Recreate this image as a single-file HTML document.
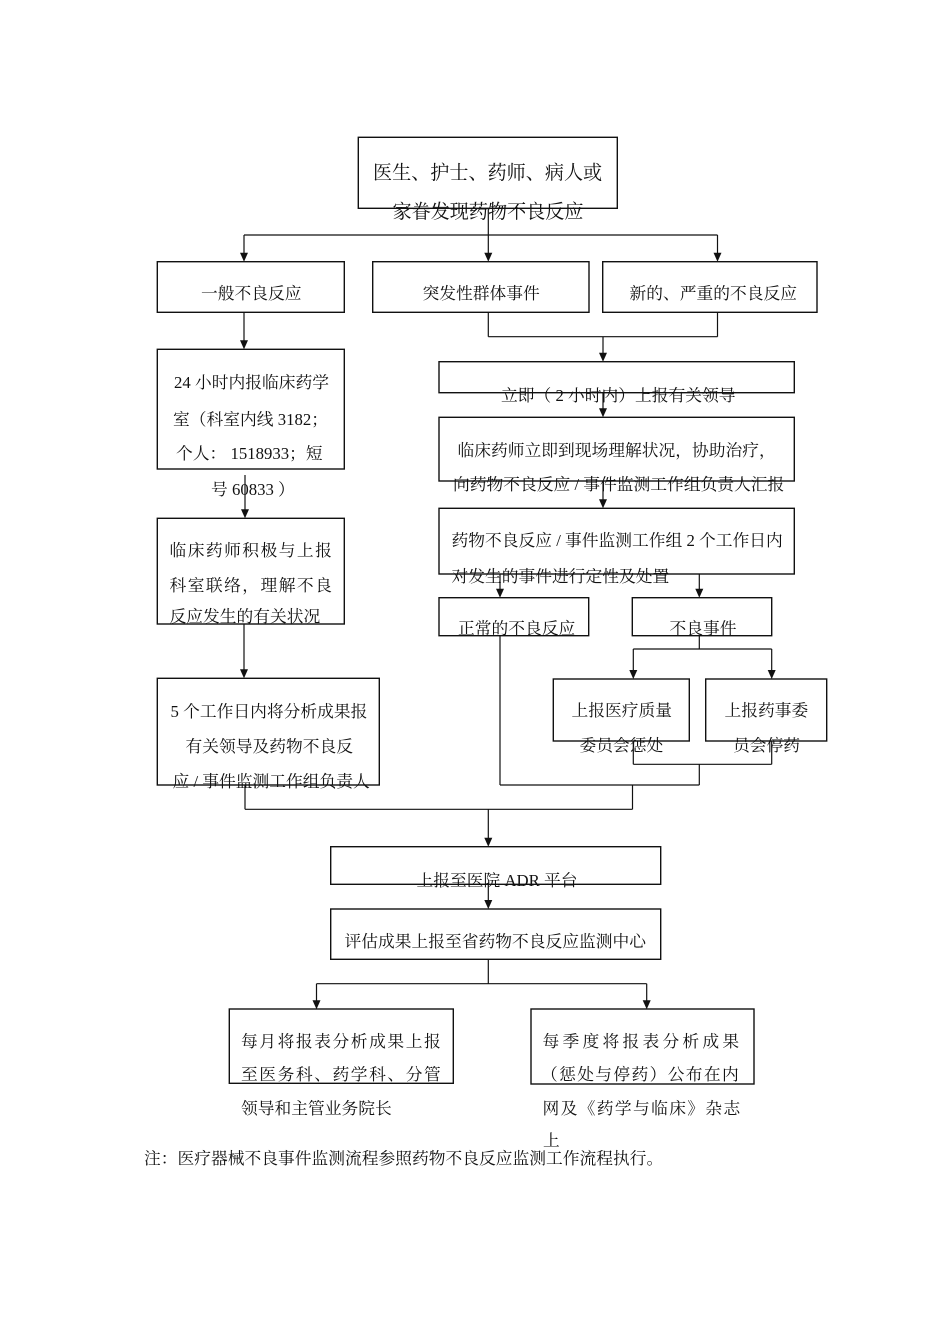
<!DOCTYPE html>
<html>
<head>
<meta charset="utf-8">
<style>
  html,body{margin:0;padding:0;background:#fff;}
  #wrap{position:relative;width:950px;height:1344px;overflow:hidden;background:#fff;}
  svg{position:absolute;left:0;top:0;}
  .t{position:absolute;white-space:nowrap;font-family:"Liberation Serif","Noto Serif CJK SC",serif;font-size:16.75px;line-height:16.75px;color:#111;}
  .big{font-size:19.1px;line-height:19.1px;}
</style>
</head>
<body>
<div id="wrap">
<svg width="950" height="1344" viewBox="0 0 950 1344">
  <g fill="none" stroke="#111" stroke-width="1.4">
    <rect x="358.3" y="137.3" width="259" height="71"/>
    <rect x="157.3" y="261.7" width="187" height="50.6"/>
    <rect x="372.7" y="261.7" width="216.3" height="50.6"/>
    <rect x="602.7" y="261.7" width="214.3" height="50.6"/>
    <rect x="157.3" y="349.3" width="187" height="119.7"/>
    <rect x="157.3" y="518.3" width="187" height="105.7"/>
    <rect x="157.3" y="678.3" width="222" height="106.7"/>
    <rect x="439" y="361.7" width="355.3" height="31"/>
    <rect x="439" y="417.3" width="355.3" height="63.7"/>
    <rect x="439" y="508.3" width="355.3" height="65.7"/>
    <rect x="439" y="597.7" width="149.7" height="38"/>
    <rect x="632.3" y="597.7" width="139.4" height="38"/>
    <rect x="553.3" y="679" width="136" height="62"/>
    <rect x="705.7" y="679" width="121" height="62"/>
    <rect x="330.7" y="846.7" width="330" height="37.6"/>
    <rect x="330.7" y="909" width="330" height="50.3"/>
    <rect x="229.3" y="1009" width="224" height="74.3"/>
    <rect x="531" y="1009" width="223" height="75"/>
  </g>
  <g fill="none" stroke="#111" stroke-width="1.2">
    <line x1="488.3" y1="208.3" x2="488.3" y2="254"/>
    <line x1="244" y1="235" x2="717.5" y2="235"/>
    <line x1="244" y1="235" x2="244" y2="254"/>
    <line x1="717.5" y1="235" x2="717.5" y2="254"/>
    <line x1="244" y1="312.3" x2="244" y2="341"/>
    <line x1="245" y1="475" x2="245" y2="510"/>
    <line x1="244" y1="624" x2="244" y2="670"/>
    <line x1="245" y1="785" x2="245" y2="809.3"/>
    <line x1="488.3" y1="312.3" x2="488.3" y2="336.7"/>
    <line x1="717.5" y1="312.3" x2="717.5" y2="336.7"/>
    <line x1="488.3" y1="336.7" x2="717.5" y2="336.7"/>
    <line x1="603" y1="336.7" x2="603" y2="354"/>
    <line x1="603" y1="392.7" x2="603" y2="409.5"/>
    <line x1="603" y1="481" x2="603" y2="500.5"/>
    <line x1="500" y1="574" x2="500" y2="590"/>
    <line x1="699.3" y1="574" x2="699.3" y2="590"/>
    <line x1="699.3" y1="635.7" x2="699.3" y2="649"/>
    <line x1="633.3" y1="649" x2="771.7" y2="649"/>
    <line x1="633.3" y1="649" x2="633.3" y2="671"/>
    <line x1="771.7" y1="649" x2="771.7" y2="671"/>
    <line x1="633.3" y1="741" x2="633.3" y2="764.3"/>
    <line x1="771.7" y1="741" x2="771.7" y2="764.3"/>
    <line x1="633.3" y1="764.3" x2="771.7" y2="764.3"/>
    <line x1="699.3" y1="764.3" x2="699.3" y2="785"/>
    <line x1="500" y1="635.7" x2="500" y2="785"/>
    <line x1="500" y1="785" x2="699.3" y2="785"/>
    <line x1="632.5" y1="785" x2="632.5" y2="809.3"/>
    <line x1="245" y1="809.3" x2="632.5" y2="809.3"/>
    <line x1="488.3" y1="809.3" x2="488.3" y2="839"/>
    <line x1="488.3" y1="884.3" x2="488.3" y2="901"/>
    <line x1="488.3" y1="959.3" x2="488.3" y2="983.7"/>
    <line x1="316.5" y1="983.7" x2="646.7" y2="983.7"/>
    <line x1="316.5" y1="983.7" x2="316.5" y2="1001"/>
    <line x1="646.7" y1="983.7" x2="646.7" y2="1001"/>
  </g>
  <g fill="#111" stroke="none">
    <polygon points="484.3,252.7 492.3,252.7 488.3,261.7"/>
    <polygon points="240,252.7 248,252.7 244,261.7"/>
    <polygon points="713.5,252.7 721.5,252.7 717.5,261.7"/>
    <polygon points="240,340.3 248,340.3 244,349.3"/>
    <polygon points="241,509.3 249,509.3 245,518.3"/>
    <polygon points="240,669.3 248,669.3 244,678.3"/>
    <polygon points="599,352.7 607,352.7 603,361.7"/>
    <polygon points="599,408.3 607,408.3 603,417.3"/>
    <polygon points="599,499.3 607,499.3 603,508.3"/>
    <polygon points="496,588.7 504,588.7 500,597.7"/>
    <polygon points="695.3,588.7 703.3,588.7 699.3,597.7"/>
    <polygon points="629.3,670 637.3,670 633.3,679"/>
    <polygon points="767.7,670 775.7,670 771.7,679"/>
    <polygon points="484.3,837.7 492.3,837.7 488.3,846.7"/>
    <polygon points="484.3,900 492.3,900 488.3,909"/>
    <polygon points="312.5,1000.3 320.5,1000.3 316.5,1009.3"/>
    <polygon points="642.7,1000.3 650.7,1000.3 646.7,1009.3"/>
  </g>
</svg>

<div class="t big" style="left:373px;top:164.3px;">医生、护士、药师、病人或</div>
<div class="t big" style="left:392.5px;top:203px;">家眷发现药物不良反应</div>

<div class="t" style="left:201px;top:286px;">一般不良反应</div>
<div class="t" style="left:422.5px;top:286px;">突发性群体事件</div>
<div class="t" style="left:629.5px;top:286px;">新的、严重的不良反应</div>

<div class="t" style="left:174px;top:375.3px;">24 小时内报临床药学</div>
<div class="t" style="left:173px;top:412px;">室（科室内线 3182；</div>
<div class="t" style="left:176px;top:446px;">个人： 1518933；短</div>
<div class="t" style="left:211px;top:482px;">号 60833 ）</div>

<div class="t" style="left:169.5px;top:543.3px;letter-spacing:1.45px;">临床药师积极与上报</div>
<div class="t" style="left:169.5px;top:577.6px;letter-spacing:1.45px;">科室联络，理解不良</div>
<div class="t" style="left:169.5px;top:609.3px;">反应发生的有关状况</div>

<div class="t" style="left:170.5px;top:704.3px;">5 个工作日内将分析成果报</div>
<div class="t" style="left:185.5px;top:738.6px;">有关领导及药物不良反</div>
<div class="t" style="left:172.5px;top:774.3px;">应 / 事件监测工作组负责人</div>

<div class="t" style="left:501px;top:387.6px;">立即（ 2 小时内）上报有关领导</div>
<div class="t" style="left:457.5px;top:442.6px;">临床药师立即到现场理解状况，协助治疗，</div>
<div class="t" style="left:453px;top:476.6px;">向药物不良反应 / 事件监测工作组负责人汇报</div>
<div class="t" style="left:451.5px;top:532.6px;">药物不良反应 / 事件监测工作组 2 个工作日内</div>
<div class="t" style="left:451.5px;top:568.6px;">对发生的事件进行定性及处置</div>
<div class="t" style="left:458px;top:620.9px;">正常的不良反应</div>
<div class="t" style="left:669.5px;top:620.9px;">不良事件</div>
<div class="t" style="left:571.5px;top:702.6px;">上报医疗质量</div>
<div class="t" style="left:579.5px;top:737.6px;">委员会惩处</div>
<div class="t" style="left:724.5px;top:702.6px;">上报药事委</div>
<div class="t" style="left:733px;top:737.6px;">员会停药</div>

<div class="t" style="left:416.5px;top:872.6px;">上报至医院 ADR 平台</div>
<div class="t" style="left:344.5px;top:934.3px;">评估成果上报至省药物不良反应监测中心</div>

<div class="t" style="left:241px;top:1033.6px;letter-spacing:1.55px;">每月将报表分析成果上报</div>
<div class="t" style="left:241px;top:1066.6px;letter-spacing:1.55px;">至医务科、药学科、分管</div>
<div class="t" style="left:241px;top:1100.9px;">领导和主管业务院长</div>

<div class="t" style="left:542.5px;top:1033.6px;letter-spacing:3.24px;">每季度将报表分析成果</div>
<div class="t" style="left:541px;top:1066.6px;letter-spacing:1.35px;">（惩处与停药）公布在内</div>
<div class="t" style="left:542.5px;top:1100.9px;letter-spacing:1.35px;">网及《药学与临床》杂志</div>
<div class="t" style="left:543px;top:1133px;">上</div>

<div class="t" style="left:144px;top:1151px;">注：医疗器械不良事件监测流程参照药物不良反应监测工作流程执行。</div>
</div>
</body>
</html>
